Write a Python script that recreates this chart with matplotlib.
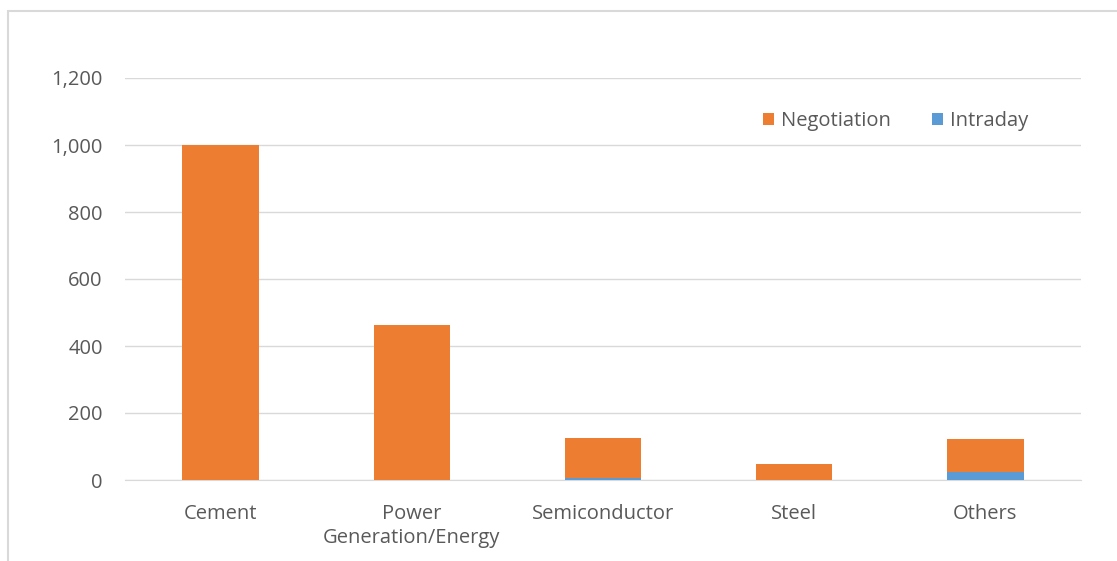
import numpy as np
import matplotlib.pyplot as plt
from matplotlib.patches import Rectangle
from matplotlib.ticker import FuncFormatter

# sectors and volumes
categories = ["Cement", "Power\nGeneration/Energy", "Semiconductor", "Steel", "Others"]
intraday = [0, 0, 6, 0, 25]
negotiation = [1000, 463, 119, 48, 97]

orange = "#ED7D31"
blue = "#5B9BD5"
grey = "#595959"
fs = 14.5

plt.rcParams['font.family'] = ['Open Sans', 'DejaVu Sans']

fig = plt.figure(figsize=(11.17, 5.61), dpi=100)
ax = fig.add_axes([125 / 1117, 81 / 561, 956 / 1117, 402 / 561])

x = np.arange(len(categories))
ax.bar(x, intraday, width=0.4, color=blue, label="Intraday", zorder=3)
ax.bar(x, negotiation, width=0.4, bottom=intraday, color=orange, label="Negotiation", zorder=3)

ax.set_xlim(-0.5, len(categories) - 0.5)
ax.set_ylim(0, 1200)
ax.set_yticks(np.arange(0, 1201, 200))
ax.yaxis.set_major_formatter(FuncFormatter(lambda v, p: f"{int(v):,}"))
ax.set_xticks(x)
ax.set_xticklabels(categories, fontsize=fs, color=grey, linespacing=1.3)
ax.tick_params(axis='y', labelsize=fs, labelcolor=grey, length=0, pad=16)
ax.tick_params(axis='x', length=0, pad=17)

ax.grid(axis='y', color="#d9d9d9", linewidth=1, zorder=0)
for s in ["top", "right", "left"]:
    ax.spines[s].set_visible(False)
ax.spines["bottom"].set_color("#d9d9d9")

handles, labels = ax.get_legend_handles_labels()
ax.legend(handles[::-1], labels[::-1], loc="center right", bbox_to_anchor=(0.955, 0.892),
          ncol=2, frameon=False, fontsize=fs, labelcolor=grey, borderpad=0,
          handlelength=0.55, handleheight=0.55, handletextpad=0.35, columnspacing=2.0)

# outer chart border
fig.add_artist(Rectangle((8 / 1117, -0.1), 1.2, (561 - 11) / 561 + 0.1,
                         transform=fig.transFigure, fill=False,
                         edgecolor="#d9d9d9", linewidth=1.5))

fig.savefig("out.png", dpi=100)
